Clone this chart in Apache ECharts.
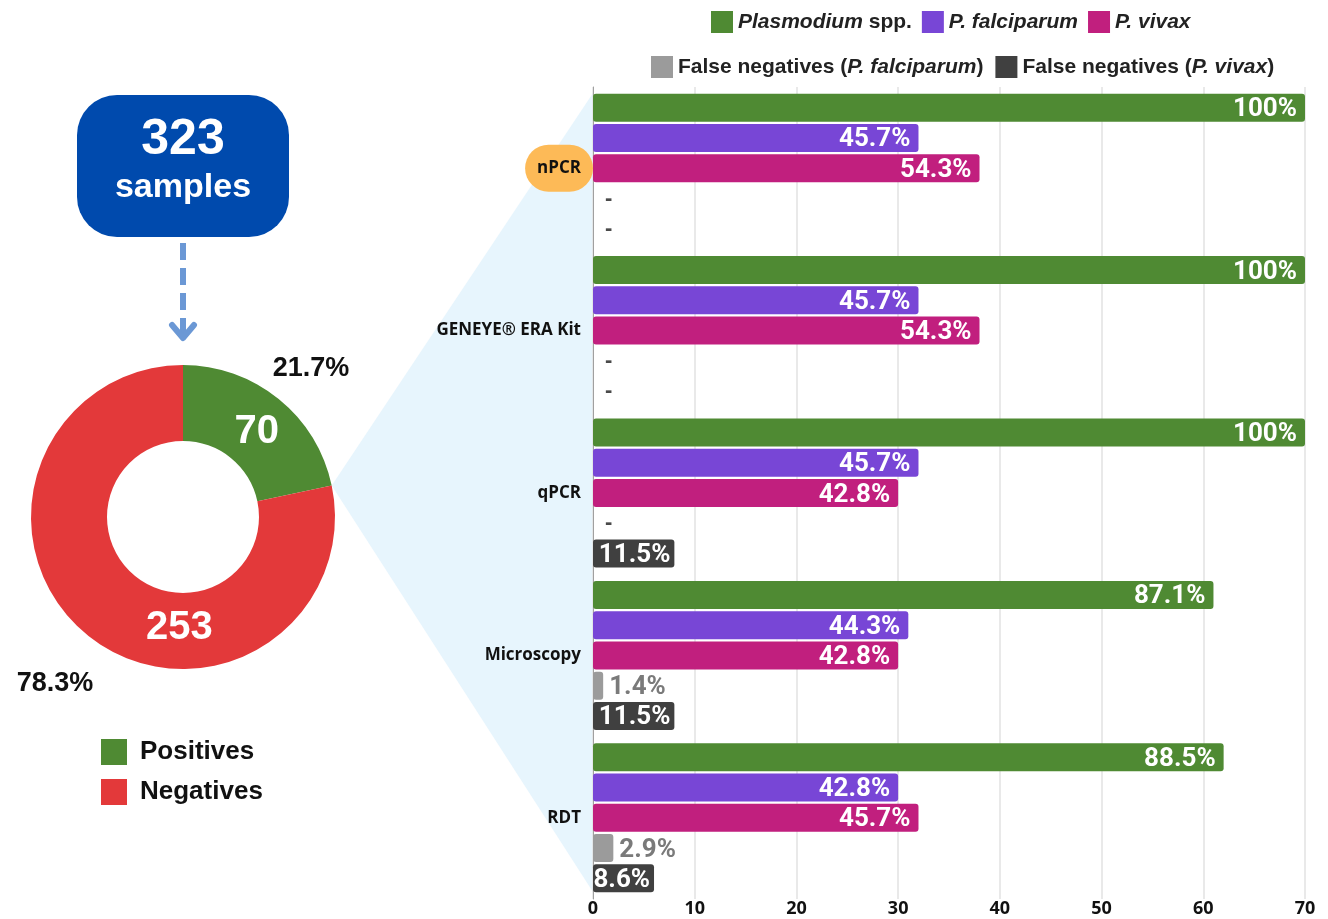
<!DOCTYPE html>
<html><head><meta charset="utf-8">
<script src="https://cdn.jsdelivr.net/npm/echarts@6/dist/echarts.min.js"></script>
<style>html,body{margin:0;padding:0;background:#fff}#c{width:1328px;height:919px}</style>
</head><body><div id="c"></div>
<script>
// ---- data ----
const categories = ['nPCR', 'GENEYE\u00AE ERA Kit', 'qPCR', 'Microscopy', 'RDT'];
const seriesNames = ['Plasmodium spp.', 'P. falciparum', 'P. vivax', 'False negatives (P. falciparum)', 'False negatives (P. vivax)'];
const plasmodium = [70, 70, 70, 61, 62];
const plasmodiumPct = ['100%', '100%', '100%', '87.1%', '88.5%'];
const falciparum = [32, 32, 32, 31, 30];
const falciparumPct = ['45.7%', '45.7%', '45.7%', '44.3%', '42.8%'];
const vivax = [38, 38, 30, 30, 32];
const vivaxPct = ['54.3%', '54.3%', '42.8%', '42.8%', '45.7%'];
const fnFalciparum = [0, 0, 0, 1, 2];
const fnFalciparumPct = ['-', '-', '-', '1.4%', '2.9%'];
const fnVivax = [0, 0, 8, 8, 6];
const fnVivaxPct = ['-', '-', '11.5%', '11.5%', '8.6%'];
const xTicks = { min: 0, max: 70, interval: 10 };
const pieNames = ['Positives', 'Negatives'];
const pieValues = [70, 253];

// ---- styles ----
const C = { green: '#4F8A33', purple: '#7846D6', magenta: '#C11F7E', lgray: '#9B9B9B', dgray: '#404040',
            red: '#E3393A', blue: '#004AAD', arrow: '#6B98D5', orange: '#FDBA57', funnel: '#E7F5FD' };
const SANS = 'Liberation Sans';
const AX = 'Open Sans';

const chart = echarts.init(document.getElementById('c'));

function barSeries(idx, values, labels, color, labelCfg) {
  return {
    type: 'bar', name: seriesNames[idx],
    data: values.map(v => v === 0 ? {
      value: v,
      label: { position: 'right', distance: 12, offset: [0, 0], formatter: '-', color: '#4A4A4A', fontSize: 22, fontWeight: 'bold', fontFamily: SANS }
    } : v),
    barWidth: 28, barGap: '8%',
    itemStyle: { color: color, borderRadius: 3 },
    label: Object.assign({
      show: true, formatter: p => labels[p.dataIndex], offset: [0, 2],
      fontFamily: 'Roboto', fontWeight: 'bold', fontSize: 26, color: '#fff'
    }, labelCfg)
  };
}

const legendMap = {
  'Plasmodium spp.': '{i|Plasmodium} spp.',
  'P. falciparum': '{i|P. falciparum}',
  'P. vivax': '{i|P. vivax}',
  'False negatives (P. falciparum)': 'False negatives ({i|P. falciparum})',
  'False negatives (P. vivax)': 'False negatives ({i|P. vivax})'
};
const legText = {
  fontFamily: SANS, fontWeight: 'bold', fontSize: 21, color: '#222',
  rich: { i: { fontFamily: SANS, fontWeight: 'bold', fontStyle: 'italic', fontSize: 21, color: '#222' } }
};

// pie geometry (layout)
const pieC = [183, 517], pieR = [76, 152];
const total = pieValues.reduce((a, b) => a + b, 0);

const option = {
  animation: false,
  backgroundColor: '#fff',
  legend: [
    { data: seriesNames.slice(0, 3), left: 706, top: 6, icon: 'rect', itemWidth: 22, itemHeight: 22, itemGap: 10,
      formatter: n => legendMap[n], textStyle: legText, selectedMode: false },
    { data: seriesNames.slice(3), left: 646, top: 51, icon: 'rect', itemWidth: 22, itemHeight: 22, itemGap: 12,
      formatter: n => legendMap[n], textStyle: legText, selectedMode: false },
    { data: pieNames, orient: 'vertical', left: 96, top: 734, icon: 'rect', itemWidth: 26, itemHeight: 26, itemGap: 14,
      textStyle: { fontFamily: SANS, fontWeight: 'bold', fontSize: 26, color: '#111', padding: [0, 0, 0, 8] }, selectedMode: false }
  ],
  grid: { left: 593, right: 23, top: 87, height: 812, containLabel: false },
  xAxis: {
    type: 'value', min: xTicks.min, max: xTicks.max, interval: xTicks.interval,
    axisLine: { show: false }, axisTick: { show: false },
    splitLine: { lineStyle: { color: '#E2E2E2', width: 1.5 } },
    axisLabel: { margin: 1, color: '#111', fontFamily: AX, fontWeight: 'bold', fontSize: 18 }
  },
  yAxis: {
    type: 'category', data: categories, inverse: true,
    axisLine: { show: true, lineStyle: { color: '#A0A0A0', width: 1 } },
    axisTick: { show: false },
    axisLabel: {
      margin: 0,
      formatter: v => v === 'nPCR' ? '{o|' + v + '}' : '{n|' + v + '}',
      rich: {
        o: { backgroundColor: C.orange, borderRadius: 25, padding: [15, 12, 15, 12],
             fontFamily: AX, fontWeight: 'bold', fontSize: 17, color: '#111' },
        n: { padding: [0, 12, 0, 0], fontFamily: AX, fontWeight: 'bold', fontSize: 17, color: '#111' }
      }
    }
  },
  series: [
    barSeries(0, plasmodium, plasmodiumPct, C.green, { position: 'insideRight', distance: 8 }),
    barSeries(1, falciparum, falciparumPct, C.purple, { position: 'insideRight', distance: 8 }),
    barSeries(2, vivax, vivaxPct, C.magenta, { position: 'insideRight', distance: 8 }),
    barSeries(3, fnFalciparum, fnFalciparumPct, C.lgray, { position: 'right', distance: 6, color: '#7A7A7A' }),
    barSeries(4, fnVivax, fnVivaxPct, C.dgray, { position: 'insideRight', distance: 4 }),
    {
      type: 'pie', name: 'samples', center: pieC, radius: pieR, startAngle: 90, clockwise: true,
      silent: true, z: 5,
      data: pieValues.map((v, i) => ({
        value: v, name: pieNames[i],
        itemStyle: { color: i === 0 ? C.green : C.red },
        label: i === 1 ? { offset: [70, 20] } : { offset: [0, 6] }
      })),
      label: { show: true, position: 'inside', formatter: '{c}', color: '#fff',
               fontFamily: SANS, fontWeight: 'bold', fontSize: 40 },
      labelLine: { show: false }, emphasis: { disabled: true }
    },
    {
      type: 'pie', name: 'pct', center: pieC, radius: [192, 212], startAngle: 90, clockwise: true,
      silent: true, percentPrecision: 1, z: 5,
      data: pieValues.map((v, i) => ({
        value: v, name: pieNames[i],
        itemStyle: { color: 'rgba(0,0,0,0)' },
        label: i === 0 ? { offset: [-1, 11] } : { offset: [1, 7] }
      })),
      label: { show: true, position: 'inside', formatter: '{d}%', color: '#111',
               fontFamily: SANS, fontWeight: 'bold', fontSize: 27 },
      labelLine: { show: false }, emphasis: { disabled: true }
    }
  ]
};
chart.setOption(option);

// ---- decorative graphics (layout from pie geometry) ----
const ang = (90 - 360 * pieValues[0] / total) * Math.PI / 180;
const edge = [pieC[0] + pieR[1] * Math.cos(ang), pieC[1] - pieR[1] * Math.sin(ang)];
const axisX = 593;

chart.setOption({
  graphic: [
    { type: 'polygon', z: -10, silent: true,
      shape: { points: [edge, [axisX, 93], [axisX, 892]] },
      style: { fill: C.funnel } },
    { type: 'rect', z: 10, silent: true,
      shape: { x: 77, y: 95, width: 212, height: 142, r: 40 },
      style: { fill: C.blue } },
    { type: 'text', z: 11, silent: true, x: 183, y: 140,
      style: { text: String(total), fill: '#fff', font: 'bold 50px "Liberation Sans"', align: 'center', verticalAlign: 'middle' } },
    { type: 'text', z: 11, silent: true, x: 183, y: 188,
      style: { text: 'samples', fill: '#fff', font: 'bold 34px "Liberation Sans"', align: 'center', verticalAlign: 'middle' } },
    { type: 'line', z: 10, silent: true,
      shape: { x1: 183, y1: 243, x2: 183, y2: 335 },
      style: { stroke: C.arrow, lineWidth: 6, lineDash: [17, 8] } },
    { type: 'polyline', z: 10, silent: true,
      shape: { points: [[172, 325], [183, 338], [194, 325]] },
      style: { stroke: C.arrow, lineWidth: 6, fill: null, lineCap: 'round', lineJoin: 'round' } }
  ]
});
</script>
</body></html>
